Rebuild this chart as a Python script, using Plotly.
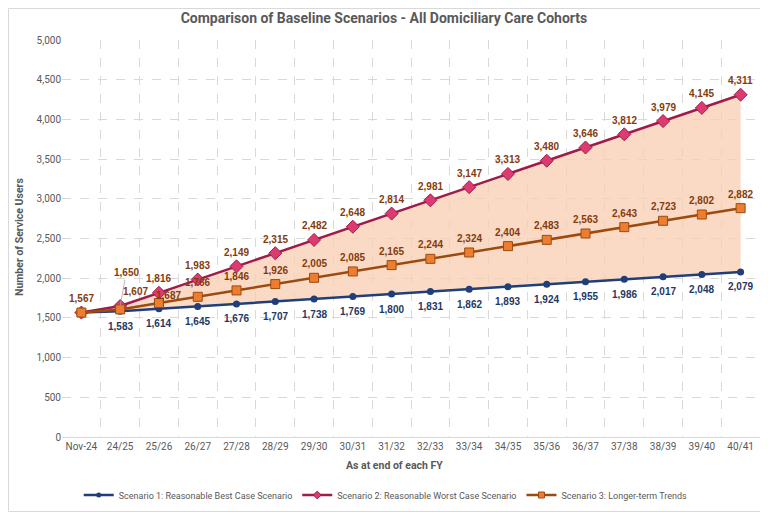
import plotly.graph_objects as go

# 数据
periods = ['Nov-24', '24/25', '25/26', '26/27', '27/28', '28/29', '29/30', '30/31', '31/32',
           '32/33', '33/34', '34/35', '35/36', '36/37', '37/38', '38/39', '39/40', '40/41']
best_case = [1567, 1583, 1614, 1645, 1676, 1707, 1738, 1769, 1800, 1831, 1862, 1893,
             1924, 1955, 1986, 2017, 2048, 2079]
worst_case = [1567, 1650, 1816, 1983, 2149, 2315, 2482, 2648, 2814, 2981, 3147, 3313,
              3480, 3646, 3812, 3979, 4145, 4311]
longer_term = [1567, 1607, 1687, 1766, 1846, 1926, 2005, 2085, 2165, 2244, 2324, 2404,
               2483, 2563, 2643, 2723, 2802, 2882]
y_ticks = list(range(0, 5001, 500))

BLUE = '#1F3E7A'
CRIMSON = '#9E1B4B'
PINK = '#DC3A70'
BROWN = '#9C4A0E'
ORANGE = '#ED7D31'
LABEL_BROWN = '#843C0C'
LABEL_BLUE = '#1F3864'
GREY = '#595959'

# page body adds an 8px margin, so the figure is a bit smaller than the window
W, H = 760, 504

fig = go.Figure()

# shaded band between best and worst case
fig.add_trace(go.Scatter(x=periods, y=best_case, mode='lines', line=dict(width=0),
                         showlegend=False, hoverinfo='skip'))
fig.add_trace(go.Scatter(x=periods, y=worst_case, mode='lines', line=dict(width=0),
                         fill='tonexty', fillcolor='rgba(248, 206, 178, 0.75)',
                         showlegend=False, hoverinfo='skip'))

series = [
    ('Scenario 1: Reasonable Best Case Scenario', best_case, BLUE,
     dict(symbol='circle', size=7, color=BLUE), dict(symbol='circle', size=5, color=BLUE)),
    ('Scenario 2: Reasonable Worst Case Scenario', worst_case, CRIMSON,
     dict(symbol='diamond', size=10, color=PINK, line=dict(color=CRIMSON, width=1)),
     dict(symbol='diamond', size=6, color=PINK, line=dict(color=CRIMSON, width=1))),
    ('Scenario 3: Longer-term Trends', longer_term, BROWN,
     dict(symbol='square', size=9, color=ORANGE, line=dict(color=BROWN, width=1)),
     dict(symbol='square', size=6, color=ORANGE, line=dict(color=BROWN, width=1))),
]

for name, vals, col, mk, _ in series:
    fig.add_trace(go.Scatter(x=periods, y=vals, mode='lines+markers', name=name,
                             line=dict(color=col, width=2.5), marker=mk, showlegend=False))

# legend-only entries with smaller markers
for name, vals, col, _, mk_small in series:
    fig.add_trace(go.Scatter(x=[None], y=[None], mode='lines+markers', name=name,
                             line=dict(color=col, width=2.5), marker=mk_small))

label_font = dict(family='Liberation Sans, Arial, sans-serif', size=10)


def add_label(x, y, color, ax=0, ay=-14, leader=False):
    fig.add_annotation(
        x=x, y=y, text=f'<b>{y:,}</b>', showarrow=True, ax=ax, ay=ay,
        arrowhead=0, arrowwidth=0.8,
        arrowcolor='#A6A6A6' if leader else 'rgba(0,0,0,0)',
        font=dict(color=color, **label_font))


for i, p in enumerate(periods):
    if i == 0:
        add_label(p, longer_term[i], LABEL_BROWN)
        continue
    add_label(p, best_case[i], LABEL_BLUE, ay=15)
    if i == 1:
        add_label(p, worst_case[i], LABEL_BROWN, ax=6, ay=-33, leader=True)
        add_label(p, longer_term[i], LABEL_BROWN, ax=15, ay=-18)
    elif i == 2:
        add_label(p, worst_case[i], LABEL_BROWN)
        add_label(p, longer_term[i], LABEL_BROWN, ax=10, ay=-8)
    else:
        add_label(p, worst_case[i], LABEL_BROWN)
        add_label(p, longer_term[i], LABEL_BROWN)

# axis titles
fig.add_annotation(text='<b>As at end of each FY</b>', xref='paper', yref='paper',
                   x=0.477, y=-0.073, showarrow=False, yanchor='middle',
                   font=dict(size=10.5, color=GREY))
fig.add_annotation(text='<b>Number of Service Users</b>', xref='paper', yref='paper',
                   x=-0.060, y=0.504, showarrow=False, textangle=-90,
                   xanchor='center', yanchor='middle',
                   font=dict(size=10.5, color=GREY))

# chart border
fig.add_shape(type='rect', xref='paper', yref='paper',
              x0=-0.0766, x1=1.0107, y0=-0.1877, y1=1.0793,
              line=dict(color='#D9D9D9', width=1), layer='below')

fig.update_layout(
    width=W, height=H,
    margin=dict(l=54, r=8, t=32, b=75),
    paper_bgcolor='white', plot_bgcolor='white',
    font=dict(family='Roboto, Arial, sans-serif', color=GREY, size=10),
    title=dict(text='<b>Comparison of Baseline Scenarios - All Domiciliary Care Cohorts</b>',
               x=0.4947, xanchor='center', y=1 - 10 / H, yanchor='middle', yref='container',
               font=dict(size=14, color=GREY)),
    xaxis=dict(
        type='category', range=[-0.5, len(periods) - 0.5], autorange=False,
        tickson='boundaries', ticks='', showgrid=True, tickangle=0,
        automargin=False,
        gridcolor='#D9D9D9', griddash='dash', gridwidth=1,
        showline=True, linecolor='#D9D9D9', linewidth=1,
        tickfont=dict(size=10, color=GREY)),
    yaxis=dict(
        range=[0, 5000], tickvals=y_ticks, tickformat=',', showgrid=True, automargin=False,
        gridcolor='#D9D9D9', griddash='dash', gridwidth=1, zeroline=False,
        showline=False, ticks='',
        tickfont=dict(size=10, color=GREY)),
    legend=dict(orientation='h', xref='container', yref='container',
                x=0.497, xanchor='center', y=1 - 487 / H, yanchor='middle',
                font=dict(size=9, color=GREY), traceorder='normal', itemwidth=30),
    showlegend=True,
)

fig.write_html('out.html')
